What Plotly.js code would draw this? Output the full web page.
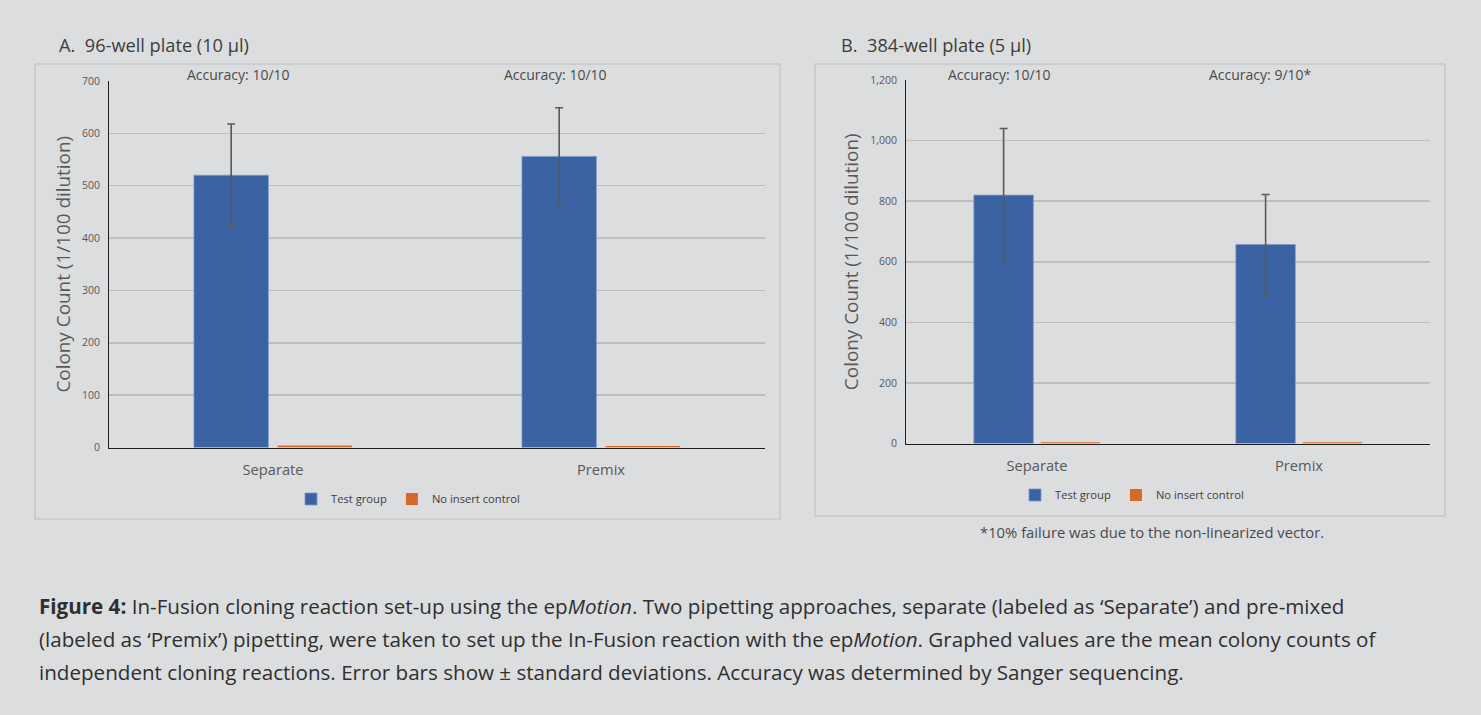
<!DOCTYPE html>
<html>
<head>
<meta charset="utf-8">
<script src="https://cdn.plot.ly/plotly-3.0.1.min.js"></script>
<style>
html,body{margin:0;padding:0;background:#dcdddf;}
#chart{width:1481px;height:715px;}
</style>
</head>
<body>
<div id="chart"></div>
<script>
// ---- data ----
const categories = ["Separate", "Premix"];
const seriesNames = ["Test group", "No insert control"];
// Panel A: 96-well plate (10 µl)
const plateA_test = [520, 556];
const plateA_testSD = [98, 93];
const plateA_control = [4, 3];
const plateA_accuracy = ["Accuracy: 10/10", "Accuracy: 10/10"];
// Panel B: 384-well plate (5 µl)
const plateB_test = [820, 657];
const plateB_testSD = [220, 165];
const plateB_control = [4, 4];
const plateB_accuracy = ["Accuracy: 10/10", "Accuracy: 9/10*"];
const panelTitles = ["A.\u00a0\u00a096-well plate (10 µl)", "B.\u00a0\u00a0384-well plate (5 µl)"];
const yTitle = "Colony Count (1/100 dilution)";
const footnote = "*10% failure was due to the non-linearized vector.";
const captionLines = [
  "<b>Figure 4:</b> In-Fusion cloning reaction set-up using the ep<i>Motion</i>. Two pipetting approaches, separate (labeled as ‘Separate’) and pre-mixed",
  "(labeled as ‘Premix’) pipetting, were taken to set up the In-Fusion reaction with the ep<i>Motion</i>. Graphed values are the mean colony counts of",
  "independent cloning reactions. Error bars show ± standard deviations. Accuracy was determined by Sanger sequencing."
];

// ---- styling ----
const W = 1481, H = 715;
const BLUE = "#3b62a2", ORANGE = "#d5692a", TXT = "#595959";
const FONT = "'Open Sans', 'Noto Sans', sans-serif";
const px = v => v / W;
const py = v => 1 - v / H;

function errBar(arr){
  return {type:"data", array:arr, visible:true, color:"#5a5a5a", thickness:1.6, width:4};
}

const traces = [
  {type:"bar", name:seriesNames[0], x:categories, y:plateA_test, error_y:errBar(plateA_testSD),
   marker:{color:BLUE, line:{color:"#7f9bc8", width:0.8}}, xaxis:"x", yaxis:"y", legend:"legend"},
  {type:"bar", name:seriesNames[1], x:categories, y:plateA_control,
   marker:{color:ORANGE}, xaxis:"x", yaxis:"y", legend:"legend"},
  {type:"bar", name:seriesNames[0], x:categories, y:plateB_test, error_y:errBar(plateB_testSD),
   marker:{color:BLUE, line:{color:"#7f9bc8", width:0.8}}, xaxis:"x2", yaxis:"y2", legend:"legend2"},
  {type:"bar", name:seriesNames[1], x:categories, y:plateB_control,
   marker:{color:ORANGE}, xaxis:"x2", yaxis:"y2", legend:"legend2"}
];

const xCommon = {
  showline:true, linecolor:"#1f1f1f", linewidth:1.5, showgrid:false, ticks:"",
  tickfont:{family:FONT, size:14.7, color:TXT}, ticklabelstandoff:8, fixedrange:true
};
const yCommon = {
  showline:true, linecolor:"#1f1f1f", linewidth:1, showgrid:true, gridcolor:"#bdbebf", gridwidth:1.5,
  zeroline:false, ticks:"", tickfont:{family:FONT, size:10.5, color:TXT}, ticklabelstandoff:6,
  title:{text:yTitle, font:{family:FONT, size:18.9, color:TXT}, standoff:6}, fixedrange:true
};

const annotations = [];
function ann(text, x, y, size, color, opts){
  annotations.push(Object.assign({text:text, x:px(x), y:py(y), xref:"paper", yref:"paper",
    showarrow:false, font:{family:FONT, size:size, color:color}, xanchor:"center", yanchor:"middle"}, opts||{}));
}
ann(panelTitles[0], 57, 45, 18.2, "#3d3d3d", {xanchor:"left"});
ann(panelTitles[1], 839, 45, 18.2, "#3d3d3d", {xanchor:"left"});
ann(plateA_accuracy[0], 238, 74, 14, "#4a4a4a");
ann(plateA_accuracy[1], 555, 74, 14, "#4a4a4a");
ann(plateB_accuracy[0], 999, 74, 14, "#4a4a4a");
ann(plateB_accuracy[1], 1260, 74, 14, "#4a4a4a");
ann(footnote, 1152, 532, 14.8, "#4a4a4a");
const capY = [606, 639, 672];
captionLines.forEach((t,i)=> ann(t, 37, capY[i], 20.6, "#2f2f2f", {xanchor:"left"}));

const layout = {
  width:W, height:H, margin:{l:0,r:0,t:0,b:0,pad:0},
  paper_bgcolor:"#dcdddf", plot_bgcolor:"#dcdddf",
  font:{family:FONT, color:TXT},
  barmode:"group", bargap:0.49, bargroupgap:0.11,
  showlegend:true,
  xaxis:Object.assign({}, xCommon, {domain:[px(109), px(765)], anchor:"y"}),
  yaxis:Object.assign({}, yCommon, {domain:[py(447.5), py(81)], range:[0,700], dtick:100, anchor:"x"}),
  xaxis2:Object.assign({}, xCommon, {domain:[px(906), px(1430)], anchor:"y2"}),
  yaxis2:Object.assign({}, yCommon, {domain:[py(443.5), py(80)], range:[0,1200], dtick:200, tickformat:",d", anchor:"x2"}),
  legend:{orientation:"h", x:px(408), y:py(499), xanchor:"center", yanchor:"middle",
    font:{family:FONT, size:11.2, color:"#404040"}, bgcolor:"rgba(0,0,0,0)", itemwidth:30, tracegroupgap:0},
  legend2:{orientation:"h", x:px(1132), y:py(495), xanchor:"center", yanchor:"middle",
    font:{family:FONT, size:11.2, color:"#404040"}, bgcolor:"rgba(0,0,0,0)", itemwidth:30, tracegroupgap:0},
  shapes:[
    {type:"rect", xref:"paper", yref:"paper", x0:px(35), x1:px(780), y0:py(519), y1:py(64),
     line:{color:"#c6c7c9", width:1.5}, fillcolor:"rgba(0,0,0,0)", layer:"below"},
    {type:"rect", xref:"paper", yref:"paper", x0:px(815), x1:px(1445), y0:py(516), y1:py(64),
     line:{color:"#c6c7c9", width:1.5}, fillcolor:"rgba(0,0,0,0)", layer:"below"}
  ],
  annotations:annotations
};

Plotly.newPlot("chart", traces, layout, {displayModeBar:false, staticPlot:true});
</script>
</body>
</html>
